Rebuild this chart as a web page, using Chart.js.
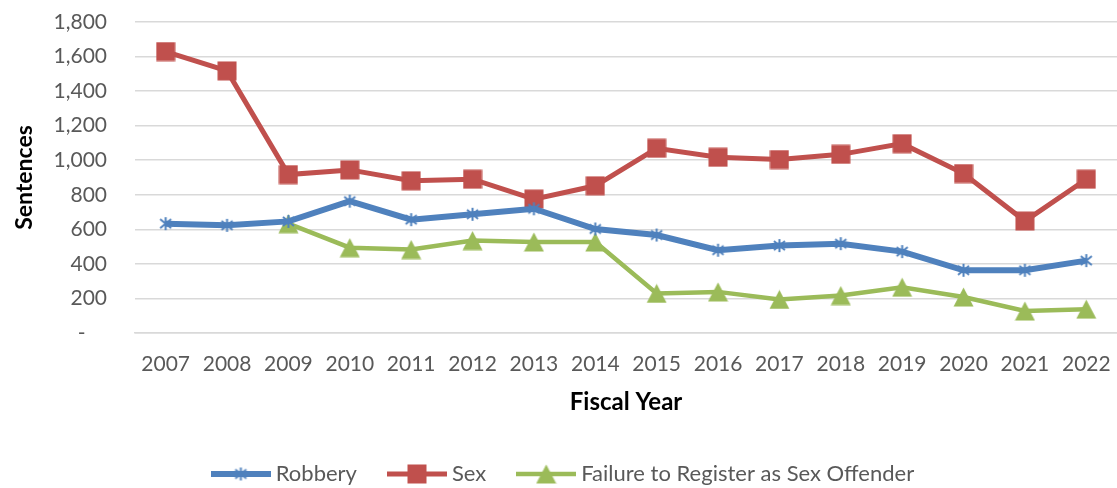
<!DOCTYPE html>
<html>
<head>
<meta charset="utf-8">
<script src="https://cdn.jsdelivr.net/npm/chart.js@4.4.1/dist/chart.umd.min.js"></script>
<style>
  html, body { margin: 0; padding: 0; background: #fff; }
</style>
</head>
<body>
<canvas id="chart" width="1117" height="488"></canvas>
<script>
// data
var years = ['2007', '2008', '2009', '2010', '2011', '2012', '2013', '2014',
             '2015', '2016', '2017', '2018', '2019', '2020', '2021', '2022'];
var robbery = [633, 623, 646, 763, 656, 687, 719, 602, 567, 479, 506, 517, 471, 363, 363, 419];
var sex = [1629, 1517, 917, 944, 881, 890, 775, 852, 1069, 1017, 1004, 1034, 1096, 923, 648, 890];
var failureToRegister = [null, null, 633, 494, 483, 535, 527, 527, 229, 238, 194, 217, 265, 208, 127, 138];
var seriesNames = ['Robbery', 'Sex', 'Failure to Register as Sex Offender'];

var BLUE = '#4F81BD', RED = '#C0504D', GREEN = '#9BBB59';
var GREY = '#595959';
var CLEAR = 'rgba(0,0,0,0)';

// excel style markers, centred on their box
function starMarker(color) {
  var c = document.createElement('canvas');
  c.width = 15; c.height = 15;
  var g = c.getContext('2d');
  g.strokeStyle = color; g.lineWidth = 2; g.lineCap = 'butt';
  g.beginPath();
  g.moveTo(7.5, 1); g.lineTo(7.5, 14);
  g.moveTo(2, 3); g.lineTo(13, 12);
  g.moveTo(13, 3); g.lineTo(2, 12);
  g.stroke();
  return c;
}
function squareMarker(color) {
  var c = document.createElement('canvas');
  c.width = 20; c.height = 20;
  var g = c.getContext('2d');
  g.fillStyle = color;
  g.fillRect(0.5, 0.5, 19, 19);
  return c;
}
function triangleMarker(color) {
  var c = document.createElement('canvas');
  c.width = 21; c.height = 20;
  var g = c.getContext('2d');
  g.fillStyle = color;
  g.beginPath();
  g.moveTo(10.5, 0.5); g.lineTo(20.5, 19.5); g.lineTo(0.5, 19.5);
  g.closePath();
  g.fill();
  return c;
}
function legendSymbol(color, width, marker) {
  var c = document.createElement('canvas');
  c.width = 60; c.height = 22;
  var g = c.getContext('2d');
  g.strokeStyle = color; g.lineWidth = width;
  g.beginPath(); g.moveTo(0, 11); g.lineTo(60, 11); g.stroke();
  g.drawImage(marker, 30 - marker.width / 2, 11 - marker.height / 2);
  return c;
}

var markers = [starMarker(BLUE), squareMarker(RED), triangleMarker(GREEN)];
var lineWidths = [6, 5, 4.5];
var colors = [BLUE, RED, GREEN];
var symbols = [0, 1, 2].map(function (i) { return legendSymbol(colors[i], lineWidths[i], markers[i]); });

var ctx = document.getElementById('chart').getContext('2d');
var myChart = new Chart(ctx, {
  type: 'line',
  data: {
    labels: years,
    datasets: [robbery, sex, failureToRegister].map(function (values, i) {
      return {
        label: seriesNames[i],
        data: values,
        borderColor: colors[i],
        backgroundColor: colors[i],
        borderWidth: lineWidths[i],
        pointStyle: markers[i],
        pointRadius: 10,
        pointHoverRadius: 10,
        tension: 0,
        spanGaps: false
      };
    })
  },
  options: {
    responsive: false,
    animation: false,
    layout: { autoPadding: false, padding: { top: 22, right: -2, bottom: -7, left: 12 } },
    plugins: {
      tooltip: { enabled: false },
      legend: {
        position: 'bottom',
        labels: {
          usePointStyle: true,
          pointStyleWidth: 48,
          padding: 36,
          color: GREY,
          font: { family: 'Lato', size: 22 },
          generateLabels: function (chart) {
            return chart.data.datasets.map(function (ds, i) {
              return {
                text: ds.label,
                pointStyle: symbols[i],
                fillStyle: colors[i],
                strokeStyle: colors[i],
                lineWidth: 0,
                fontColor: GREY,
                hidden: false,
                datasetIndex: i
              };
            });
          }
        }
      }
    },
    scales: {
      x: {
        offset: true,
        // invisible tick marks give the gap under the axis
        grid: { color: CLEAR, tickColor: CLEAR, drawTicks: true, tickLength: 19 },
        border: { display: true, color: '#d9d9d9', width: 1.5 },
        ticks: { color: GREY, padding: 0, maxRotation: 0, font: { family: 'Lato', size: 21 } },
        title: {
          display: true,
          text: 'Fiscal Year',
          color: '#000',
          padding: { top: 4, bottom: 10 },
          font: { family: 'Lato', size: 24, weight: 'bold' }
        },
        afterFit: function (scale) { scale.height = 94; }
      },
      y: {
        min: 0,
        max: 1800,
        grid: { color: '#d9d9d9', lineWidth: 1.5, drawTicks: true, tickLength: 28, tickColor: CLEAR },
        border: { display: false },
        ticks: {
          stepSize: 200,
          padding: 0,
          color: GREY,
          font: { family: 'Lato', size: 21 },
          callback: function (v) { return v === 0 ? '-    ' : v.toLocaleString('en-US'); }
        },
        title: {
          display: true,
          text: 'Sentences',
          color: '#000',
          padding: { top: -1, bottom: 0 },
          font: { family: 'Lato', size: 23, weight: 'bold' }
        },
        afterFit: function (scale) { scale.width = 123; }
      }
    }
  }
});
</script>
</body>
</html>
